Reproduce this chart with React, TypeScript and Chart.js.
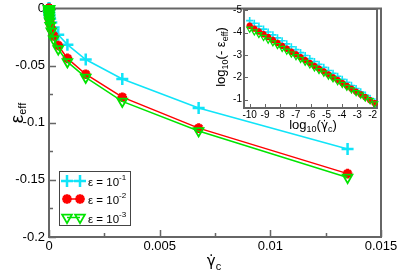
import React, { useEffect, useRef } from "react";
import { Chart, registerables } from "chart.js";
import { drawPoint } from "chart.js/helpers";

Chart.register(...registerables);

const FONT = '"Liberation Sans", Arial, Helvetica, sans-serif';
const GFONT = '"DejaVu Sans", sans-serif';

// ---------------- data ----------------
// log10 of the shear rate, one entry per point (shared by all series)
const logGamma = [
  -10.0, -9.7, -9.4, -9.1, -8.8, -8.49, -8.19, -7.89, -7.59, -7.29, -6.99, -6.69, -6.39, -6.09,
  -5.79, -5.49, -5.18, -4.88, -4.58, -4.28, -3.98, -3.68, -3.38, -3.08, -2.78, -2.48, -2.17, -1.87,
];
// log10(-eps_eff) for eps = 1e-1
const logEps1 = [
  -4.54, -4.42, -4.29, -4.16, -4.03, -3.9, -3.77, -3.64, -3.5, -3.37, -3.24, -3.11, -2.98, -2.84,
  -2.71, -2.58, -2.45, -2.31, -2.18, -2.05, -1.91, -1.78, -1.64, -1.5, -1.35, -1.21, -1.06, -0.91,
];
// eps = 1e-2
const logEps2 = [
  -4.31, -4.18, -4.05, -3.93, -3.8, -3.67, -3.54, -3.41, -3.28, -3.15, -3.03, -2.9, -2.77, -2.64,
  -2.51, -2.39, -2.26, -2.13, -2.0, -1.88, -1.75, -1.62, -1.49, -1.36, -1.24, -1.11, -0.98, -0.84,
];
// eps = 1e-3
const logEps3 = [
  -4.17, -4.05, -3.93, -3.8, -3.68, -3.56, -3.44, -3.31, -3.19, -3.06, -2.94, -2.82, -2.69, -2.57,
  -2.44, -2.32, -2.2, -2.07, -1.95, -1.82, -1.7, -1.57, -1.45, -1.33, -1.22, -1.09, -0.97, -0.83,
];
const seriesExponents = ["-1", "-2", "-3"];

const mainXTicks = [0, 0.005, 0.01, 0.015];
const mainXTickLabels = ["0", "0.005", "0.01", "0.015"];
const mainXMinor = [0.0025, 0.0075, 0.0125];
const mainYTicks = [-0.2, -0.15, -0.1, -0.05, 0];
const mainYTickLabels = ["-0.2", "-0.15", "-0.1", "-0.05", "0"];
const mainYMinor = [-0.175, -0.125, -0.075, -0.025];

const insetXTicks = [-10, -9, -8, -7, -6, -5, -4, -3, -2];
const insetXTickLabels = ["-10", "-9", "-8", "-7", "-6", "-5", "-4", "-3", "-2"];
const insetYTicks = [-5, -4, -3, -2, -1];
const insetYTickLabels = ["-5", "-4", "-3", "-2", "-1"];

// ---------------- styles ----------------
const STY = [
  { color: "#10E4F8", pointStyle: "cross", rotation: 0, r: 6, ri: 3.6, bw: 2.5, bwi: 1.6, fill: "#10E4F8" },
  { color: "#FF0000", pointStyle: "star", rotation: 0, r: 4.8, ri: 3.2, bw: 3, bwi: 2.2, fill: "#FF0000" },
  { color: "#00E400", pointStyle: "triangle", rotation: 180, r: 5.6, ri: 3.4, bw: 1.8, bwi: 1.2, fill: "rgba(0,0,0,0)" },
];
const logSeries = [logEps1, logEps2, logEps3];
const FRAME = "#666666";

type Seg = { t: string; size: number; dy?: number; font?: string };
function drawRich(ctx: CanvasRenderingContext2D, segs: Seg[], x: number, y: number, rot = 0, align = "center") {
  ctx.save();
  ctx.translate(x, y);
  if (rot) ctx.rotate(rot);
  ctx.textBaseline = "alphabetic";
  ctx.textAlign = "left";
  ctx.fillStyle = "#000";
  const widths = segs.map((s) => {
    ctx.font = `${s.size}px ${s.font || FONT}`;
    return ctx.measureText(s.t).width;
  });
  const total = widths.reduce((a, b) => a + b, 0);
  let cx = align === "center" ? -total / 2 : 0;
  segs.forEach((s, i) => {
    ctx.font = `${s.size}px ${s.font || FONT}`;
    ctx.fillText(s.t, cx, s.dy || 0);
    cx += widths[i];
  });
  ctx.restore();
}

const framePlugin = {
  id: "frame",
  beforeDatasetsDraw(chart: any, _a: any, o: any) {
    const { ctx, chartArea: ca, scales } = chart;
    ctx.save();
    if (o.fill) {
      ctx.fillStyle = o.fill;
      ctx.fillRect(ca.left, ca.top, ca.right - ca.left, ca.bottom - ca.top);
    }
    ctx.strokeStyle = FRAME;
    ctx.lineWidth = o.tickWidth;
    ctx.beginPath();
    const xt = (vals: number[], len: number) =>
      vals.forEach((v) => {
        const px = Math.round(scales.x.getPixelForValue(v)) + 0.5;
        ctx.moveTo(px, ca.bottom);
        ctx.lineTo(px, ca.bottom - len);
      });
    const yt = (vals: number[], len: number) =>
      vals.forEach((v) => {
        const py = Math.round(scales.y.getPixelForValue(v)) + 0.5;
        ctx.moveTo(ca.left, py);
        ctx.lineTo(ca.left + len, py);
      });
    xt(o.xMajor, o.major);
    xt(o.xMinor || [], o.minor);
    yt(o.yMajor, o.major);
    yt(o.yMinor || [], o.minor);
    ctx.stroke();
    ctx.lineWidth = o.lineWidth;
    ctx.strokeRect(ca.left, ca.top, ca.right - ca.left, ca.bottom - ca.top);
    ctx.restore();
  },
};

function MainChart() {
  const ref = useRef<HTMLCanvasElement>(null);
  useEffect(() => {
    const datasets = logSeries.map((ls, si) => ({
      label: "eps" + seriesExponents[si],
      data: logGamma.map((g, i) => ({ x: Math.pow(10, g), y: -Math.pow(10, ls[i]) })),
      borderColor: STY[si].color,
      backgroundColor: STY[si].fill,
      borderWidth: 1.5,
      pointStyle: STY[si].pointStyle as any,
      pointRotation: STY[si].rotation,
      pointRadius: STY[si].r,
      pointBorderWidth: STY[si].bw,
      pointBorderColor: STY[si].color,
      pointBackgroundColor: STY[si].fill,
      showLine: true,
      tension: 0,
      clip: false as any,
      order: 3 - si,
    }));
    const titles = {
      id: "titles",
      afterDraw(chart: any) {
        const ctx = chart.ctx as CanvasRenderingContext2D;
        // y title
        drawRich(ctx, [{ t: "ε", size: 19 }, { t: "eff", size: 11, dy: 3 }], 23, 113, -Math.PI / 2);
        // x title
        drawRich(ctx, [{ t: "γ̇", size: 15, font: GFONT }, { t: "c", size: 11, dy: 4 }], 214, 266);
        // legend
        ctx.save();
        ctx.fillStyle = "#fff";
        ctx.fillRect(59.5, 171.5, 71, 54);
        ctx.strokeStyle = "#444";
        ctx.lineWidth = 1;
        ctx.strokeRect(59.5, 171.5, 71, 54);
        const rows = [181, 199, 217.5];
        rows.forEach((ry, si) => {
          const s = STY[si];
          ctx.strokeStyle = s.color;
          ctx.lineWidth = 1.5;
          ctx.beginPath();
          ctx.moveTo(67, ry);
          ctx.lineTo(80, ry);
          ctx.stroke();
          ctx.fillStyle = s.fill;
          ctx.lineWidth = s.bw;
          [67, 80].forEach((px) =>
            drawPoint(ctx, { pointStyle: s.pointStyle as any, rotation: s.rotation, radius: s.r, borderWidth: s.bw } as any, px, ry)
          );
          drawRich(
            ctx,
            [
              { t: "ε = 10", size: 11.5 },
              { t: seriesExponents[si], size: 8, dy: -6 },
            ],
            88,
            ry + 5,
            0,
            "left"
          );
        });
        ctx.restore();
      },
    };
    const chart = new Chart(ref.current!, {
      type: "scatter",
      data: { datasets },
      plugins: [framePlugin, titles],
      options: {
        animation: false,
        responsive: false,
        layout: { padding: { top: 5, right: 18, left: 0, bottom: 0 } },
        plugins: {
          legend: { display: false },
          tooltip: { enabled: false },
          frame: {
            xMajor: mainXTicks,
            xMinor: mainXMinor,
            yMajor: mainYTicks,
            yMinor: mainYMinor,
            major: 7,
            minor: 4,
            tickWidth: 1.5,
            lineWidth: 2,
          },
        } as any,
        scales: {
          x: {
            type: "linear",
            min: 0,
            max: 0.015,
            grid: { display: false, drawTicks: false },
            border: { display: false },
            afterBuildTicks: (s: any) => {
              s.ticks = mainXTicks.map((v) => ({ value: v }));
            },
            afterFit: (s: any) => {
              s.height = 39;
              s.paddingLeft = 0;
              s.paddingRight = 0;
            },
            ticks: {
              autoSkip: false,
              maxRotation: 0,
              padding: 2,
              color: "#000",
              font: { family: FONT, size: 13 },
              callback: (_v: any, i: number) => mainXTickLabels[i],
            },
          },
          y: {
            type: "linear",
            min: -0.2,
            max: 0,
            grid: { display: false, drawTicks: false },
            border: { display: false },
            afterBuildTicks: (s: any) => {
              s.ticks = mainYTicks.map((v) => ({ value: v }));
            },
            afterFit: (s: any) => {
              s.width = 49;
              s.paddingTop = 0;
              s.paddingBottom = 0;
            },
            ticks: {
              autoSkip: false,
              padding: 4,
              color: "#000",
              font: { family: FONT, size: 13 },
              callback: (_v: any, i: number) => mainYTickLabels[i],
            },
          },
        },
      },
    });
    return () => chart.destroy();
  }, []);
  return <canvas ref={ref} width={399} height={276} style={{ position: "absolute", left: 0, top: 0 }} />;
}

function InsetChart() {
  const ref = useRef<HTMLCanvasElement>(null);
  useEffect(() => {
    const datasets = logSeries.map((ls, si) => ({
      label: "eps" + seriesExponents[si],
      data: logGamma.map((g, i) => ({ x: g, y: ls[i] })),
      borderColor: STY[si].color,
      backgroundColor: STY[si].fill,
      pointStyle: STY[si].pointStyle as any,
      pointRotation: STY[si].rotation,
      pointRadius: STY[si].ri,
      pointBorderWidth: STY[si].bwi,
      pointBorderColor: STY[si].color,
      pointBackgroundColor: STY[si].fill,
      showLine: false,
      clip: false as any,
      order: 3 - si,
    }));
    const titles = {
      id: "titles",
      afterDraw(chart: any) {
        const ctx = chart.ctx as CanvasRenderingContext2D;
        drawRich(
          ctx,
          [
            { t: "log", size: 13 },
            { t: "10", size: 9, dy: 3 },
            { t: "(", size: 13 },
            { t: "γ̇", size: 12, font: GFONT },
            { t: "c", size: 9, dy: 3 },
            { t: ")", size: 13 },
          ],
          113,
          129
        );
        drawRich(
          ctx,
          [
            { t: "log", size: 13 },
            { t: "10", size: 9, dy: 3 },
            { t: "(- ε", size: 13 },
            { t: "eff", size: 9, dy: 3 },
            { t: ")", size: 13 },
          ],
          25,
          57,
          -Math.PI / 2
        );
      },
    };
    const chart = new Chart(ref.current!, {
      type: "scatter",
      data: { datasets },
      plugins: [framePlugin, titles],
      options: {
        animation: false,
        responsive: false,
        layout: { padding: { top: 9, right: 22, left: 0, bottom: 0 } },
        plugins: {
          legend: { display: false },
          tooltip: { enabled: false },
          frame: {
            xMajor: insetXTicks,
            yMajor: insetYTicks,
            major: 4,
            minor: 2,
            tickWidth: 1,
            lineWidth: 2,
            fill: "#fff",
          },
        } as any,
        scales: {
          x: {
            type: "linear",
            min: -10.37,
            max: -1.72,
            grid: { display: false, drawTicks: false },
            border: { display: false },
            afterBuildTicks: (s: any) => {
              s.ticks = insetXTicks.map((v) => ({ value: v }));
            },
            afterFit: (s: any) => {
              s.height = 32;
              s.paddingLeft = 0;
              s.paddingRight = 0;
            },
            ticks: {
              autoSkip: false,
              maxRotation: 0,
              padding: 1,
              color: "#000",
              font: { family: FONT, size: 10 },
              callback: (_v: any, i: number) => insetXTickLabels[i],
            },
          },
          y: {
            type: "linear",
            reverse: true,
            min: -5.06,
            max: -0.63,
            grid: { display: false, drawTicks: false },
            border: { display: false },
            afterBuildTicks: (s: any) => {
              s.ticks = insetYTicks.map((v) => ({ value: v }));
            },
            afterFit: (s: any) => {
              s.width = 44;
              s.paddingTop = 0;
              s.paddingBottom = 0;
            },
            ticks: {
              autoSkip: false,
              padding: 2,
              color: "#000",
              font: { family: FONT, size: 10 },
              callback: (_v: any, i: number) => insetYTickLabels[i],
            },
          },
        },
      },
    });
    return () => chart.destroy();
  }, []);
  return <canvas ref={ref} width={199} height={140} style={{ position: "absolute", left: 200, top: 0 }} />;
}

export default function App() {
  return (
    <div style={{ position: "fixed", left: 0, top: 0, width: 399, height: 276, background: "#fff", overflow: "hidden" }}>
      <MainChart />
      <InsetChart />
    </div>
  );
}
